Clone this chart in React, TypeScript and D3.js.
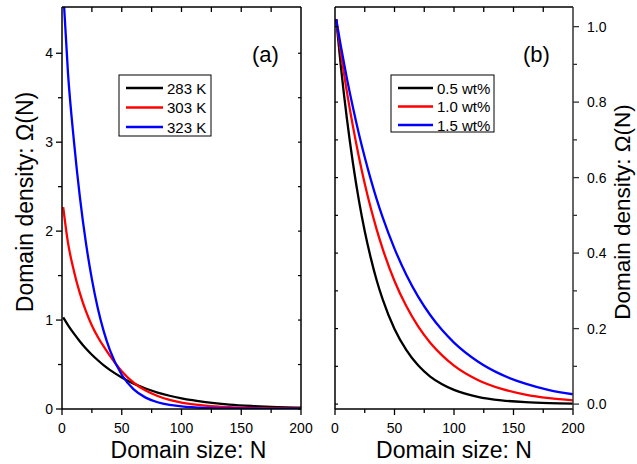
import React from 'react';
import * as d3 from 'd3';

// domain size N where values were read
const sizes = [1, 5, 10, 15, 20, 25, 30, 35, 40, 50, 60, 70, 80, 90, 100, 120, 140, 160, 180, 200];

// panel (a): temperatures
const tempLabels = ['283 K', '303 K', '323 K'];
const k283 = [1.03, 0.944, 0.847, 0.76, 0.68, 0.61, 0.548, 0.49, 0.44, 0.355, 0.285, 0.23, 0.185, 0.149, 0.12, 0.078, 0.05, 0.033, 0.021, 0.014];
const k303 = [2.27, 1.87, 1.55, 1.3, 1.1, 0.94, 0.81, 0.7, 0.6, 0.425, 0.295, 0.207, 0.146, 0.103, 0.073, 0.038, 0.02, 0.011, 0.006, 0.0035];
const k323 = [4.7, 3.78, 3.01, 2.38, 1.87, 1.46, 1.13, 0.87, 0.665, 0.385, 0.22, 0.128, 0.076, 0.046, 0.03, 0.013, 0.006, 0.003, 0.0015, 0.0008];

// panel (b): concentrations
const concLabels = ['0.5 wt%', '1.0 wt%', '1.5 wt%'];
const w05 = [1.02, 0.893, 0.756, 0.64, 0.541, 0.458, 0.388, 0.328, 0.278, 0.199, 0.143, 0.102, 0.073, 0.0525, 0.0376, 0.0193, 0.0099, 0.0051, 0.0026, 0.0013];
const w10 = [1.02, 0.929, 0.827, 0.737, 0.656, 0.584, 0.52, 0.463, 0.412, 0.326, 0.259, 0.205, 0.1625, 0.129, 0.102, 0.064, 0.0403, 0.0253, 0.0159, 0.01];
const w15 = [1.02, 0.947, 0.863, 0.787, 0.717, 0.654, 0.596, 0.543, 0.495, 0.412, 0.342, 0.284, 0.236, 0.196, 0.163, 0.113, 0.078, 0.054, 0.037, 0.026];

const xTicks = [0, 50, 100, 150, 200];
const xMinor = [25, 75, 125, 175];
const xTop = [25, 50, 75, 100, 125, 150, 175];
const aTicks = [0, 1, 2, 3, 4];
const aMinor = [0.5, 1.5, 2.5, 3.5];
const bTicks = [0, 0.2, 0.4, 0.6, 0.8, 1.0];
const bMinor = [0.1, 0.3, 0.5, 0.7, 0.9];

const colors = ['#000000', '#ff0000', '#0000ff'];
const font = '"Liberation Sans", Arial, Helvetica, sans-serif';

const W = 637;
const H = 464;

const Panel = ({ id, x0, x1, y0, y1, yDomain, series, labels, legend, tag, tagX, side }) => {
  const x = d3.scaleLinear().domain([0, 200]).range([x0, x1]);
  const y = d3.scaleLinear().domain(yDomain).range([y1, y0]);
  const line = d3
    .line()
    .x((d) => x(d[0]))
    .y((d) => y(d[1]))
    .curve(d3.curveMonotoneX);

  const ticks = side === 'left' ? aTicks : bTicks;
  const minor = side === 'left' ? aMinor : bMinor;

  return (
    <g>
      <defs>
        <clipPath id={id}>
          <rect x={x0} y={y0} width={x1 - x0} height={y1 - y0} />
        </clipPath>
      </defs>

      <g clipPath={`url(#${id})`}>
        {series.map((s, i) => (
          <path
            key={i}
            d={line(sizes.map((n, j) => [n, s[j]]))}
            fill="none"
            stroke={colors[i]}
            strokeWidth={2.3}
          />
        ))}
      </g>

      {/* frame */}
      <line x1={x0} x2={x1} y1={y1} y2={y1} stroke="#000" strokeWidth={1.5} />
      <line x1={x0} x2={x1} y1={y0} y2={y0} stroke="#000" strokeWidth={1.5} />
      <line x1={x0} x2={x0} y1={y0} y2={y1} stroke="#000" strokeWidth={1.5} />
      <line x1={x1} x2={x1} y1={y0} y2={y1} stroke={side === 'left' ? '#000' : '#333'} strokeWidth={1.5} />

      {/* bottom axis */}
      {xTicks.map((t) => (
        <g key={t}>
          <line x1={x(t)} x2={x(t)} y1={y1} y2={y1 + 6} stroke="#000" strokeWidth={1.3} />
          <text x={x(t)} y={433} textAnchor="middle" fontSize={14} fontFamily={font}>
            {t}
          </text>
        </g>
      ))}
      {xMinor.map((t) => (
        <line key={t} x1={x(t)} x2={x(t)} y1={y1} y2={y1 + 4} stroke="#000" strokeWidth={1.3} />
      ))}
      {/* top ticks, inward */}
      {xTop.map((t) => (
        <line key={t} x1={x(t)} x2={x(t)} y1={y0} y2={y0 + 5} stroke="#000" strokeWidth={1.3} />
      ))}

      {side === 'left' ? (
        <g>
          {aTicks.map((t) => (
            <g key={t}>
              <line x1={x0 - 6} x2={x0} y1={y(t)} y2={y(t)} stroke="#000" strokeWidth={1.3} />
              <line x1={x1 - 3} x2={x1} y1={y(t)} y2={y(t)} stroke="#000" strokeWidth={1.2} />
              <text x={x0 - 9} y={y(t) + 5} textAnchor="end" fontSize={14} fontFamily={font}>
                {t}
              </text>
            </g>
          ))}
          {aMinor.map((t) => (
            <g key={t}>
              <line x1={x0 - 4} x2={x0} y1={y(t)} y2={y(t)} stroke="#000" strokeWidth={1.3} />
              <line x1={x1 - 3} x2={x1} y1={y(t)} y2={y(t)} stroke="#000" strokeWidth={1.2} />
            </g>
          ))}
        </g>
      ) : (
        <g>
          {ticks.concat(minor).map((t) => (
            <line key={'l' + t} x1={x0} x2={x0 + 3} y1={y(t)} y2={y(t)} stroke="#000" strokeWidth={1.2} />
          ))}
          {ticks.map((t) => (
            <g key={t}>
              <line x1={x1} x2={x1 + 6} y1={y(t)} y2={y(t)} stroke="#333" strokeWidth={1.3} />
              <text x={x1 + 14} y={y(t) + 5} fontSize={14} fontFamily={font}>
                {d3.format('.1f')(t)}
              </text>
            </g>
          ))}
          {minor.map((t) => (
            <line key={t} x1={x1} x2={x1 + 4} y1={y(t)} y2={y(t)} stroke="#333" strokeWidth={1.3} />
          ))}
        </g>
      )}

      {/* legend */}
      <rect
        x={legend.x}
        y={legend.y}
        width={legend.w}
        height={legend.h}
        fill="#fff"
        stroke="#000"
        strokeWidth={1}
      />
      {labels.map((l, i) => (
        <g key={l}>
          <line
            x1={legend.x + 7}
            x2={legend.x + 7 + legend.len}
            y1={legend.y + 13 + i * legend.gap}
            y2={legend.y + 13 + i * legend.gap}
            stroke={colors[i]}
            strokeWidth={2.5}
          />
          <text
            x={legend.x + 11 + legend.len}
            y={legend.y + 13 + i * legend.gap + 5.5}
            fontSize={15}
            fontFamily={font}
          >
            {l}
          </text>
        </g>
      ))}

      <text x={tagX} y={62} fontSize={22} fontFamily={font}>
        {tag}
      </text>

      <text x={(x0 + x1) / 2 + (side === 'left' ? 7 : 0)} y={458} textAnchor="middle" fontSize={23} fontFamily={font}>
        Domain size: N
      </text>
    </g>
  );
};

export default function App() {
  return (
    <div style={{ position: 'absolute', left: 0, top: 0, width: W, height: H, background: '#fff' }}>
      <svg width={W} height={H} style={{ display: 'block' }}>
        <rect width={W} height={H} fill="#fff" />
        <Panel
          id="clipA"
          x0={62}
          x1={301}
          y0={7}
          y1={409}
          yDomain={[0, 4.52]}
          series={[k283, k303, k323]}
          labels={tempLabels}
          legend={{ x: 119, y: 75, w: 92, h: 61, len: 37, gap: 19.5 }}
          tag="(a)"
          tagX={252}
          side="left"
        />
        <Panel
          id="clipB"
          x0={335}
          x1={573}
          y0={7}
          y1={409}
          yDomain={[-0.013, 1.052]}
          series={[w05, w10, w15]}
          labels={concLabels}
          legend={{ x: 391, y: 75, w: 103, h: 57, len: 35, gap: 18.5 }}
          tag="(b)"
          tagX={523}
          side="right"
        />
        <text
          transform="translate(33,202) rotate(-90)"
          textAnchor="middle"
          fontSize={23}
          fontFamily={font}
        >
          Domain density: Ω(N)
        </text>
        <text
          transform="translate(630,212) rotate(-90)"
          textAnchor="middle"
          fontSize={22.5}
          fontFamily={font}
        >
          Domain density: Ω(N)
        </text>
      </svg>
    </div>
  );
}
